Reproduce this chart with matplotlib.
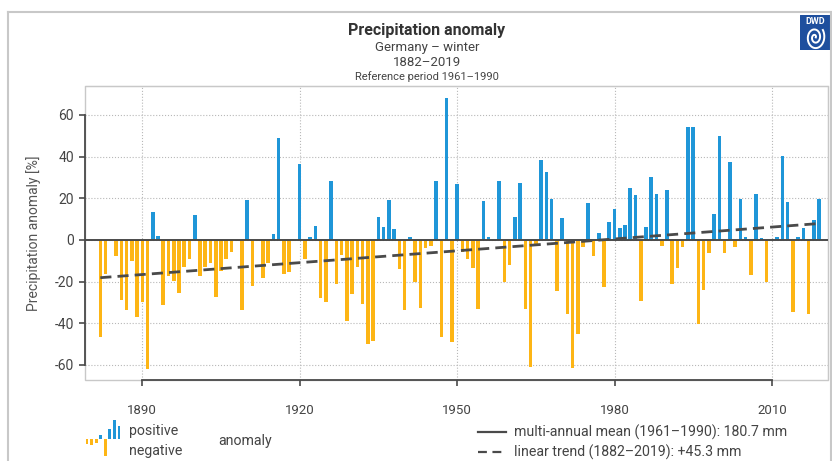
import numpy as np
import matplotlib
matplotlib.use('Agg')
from matplotlib import pyplot as plt
from matplotlib import font_manager
from matplotlib.lines import Line2D
from matplotlib.patches import Rectangle

# winter precipitation anomaly in % vs 1961-1990, one value per year
years = np.arange(1882, 2020)
anomaly = [
    -46.7, -16.3, -0.5, -7.5, -28.8, -33.6, -9.9, -36.8, -29.6, -62.1,   # 1882-1891
    13.6, 2.1, -31.2, -17.1, -19.5, -25.3, -13.1, -9.1, 12.0, -17.1,      # 1892-1901
    -12.8, -11.2, -27.5, -14.7, -9.1, -5.9, -0.5, -33.6, 19.2, -21.9,     # 1902-1911
    -0.5, -18.4, -11.2, 2.9, 48.8, -16.3, -15.5, -0.5, 36.5, -9.1,        # 1912-1921
    1.6, 6.9, -28.0, -29.6, 28.5, -21.1, -7.2, -38.7, -25.9, -12.8,       # 1922-1931
    -30.7, -49.9, -48.3, 11.2, 6.1, 19.2, 5.3, -13.9, -33.6, 1.3,         # 1932-1941
    -20.0, -32.8, -4.0, -2.7, 28.5, -46.4, 68.0, -48.8, 26.7, -5.9,       # 1942-1951
    -9.1, -13.6, -33.1, 18.7, 1.3, -0.5, 28.5, -20.0, -12.0, 11.2,        # 1952-1961
    27.2, -33.1, -60.8, -2.7, 38.4, 32.5, 19.7, -24.5, 10.4, -35.5,       # 1962-1971
    -61.6, -45.3, -3.2, 17.6, -7.7, 3.5, -22.4, 8.5, 14.7, 5.9,           # 1972-1981
    7.2, 24.8, 21.6, -29.3, 6.1, 30.4, 21.9, -2.7, 24.0, -21.3,           # 1982-1991
    -13.3, -3.5, 54.1, 54.1, -40.5, -24.0, -6.4, 12.3, 50.1, -6.4,        # 1992-2001
    37.6, -3.2, 19.7, 1.6, -16.8, 22.1, 0.8, -20.3, 0.5, 1.6,             # 2002-2011
    40.5, 18.1, -34.7, 1.3, 5.9, -35.7, 9.6, 19.5,                        # 2012-2019
]
trend_years = [1882, 2019]
trend_values = [-18.1, 7.9]

xticks = [1890, 1920, 1950, 1980, 2010]
yticks = [-60, -40, -20, 0, 20, 40, 60]

# tiny bar sketch used as legend symbol
icon_values = [-3, -3.5, -2.5, 3, -11, 7, 13, 9]

title = 'Precipitation anomaly'
subtitles = ['Germany \u2013 winter', '1882\u20132019']
ref_text = 'Reference period 1961\u20131990'
mean_text = 'multi-annual mean (1961\u20131990): 180.7 mm'
trend_text = 'linear trend (1882\u20132019): +45.3 mm'

BLUE = '#1f96d8'
ORANGE = '#fdb515'
DARK = '#4a4a4a'
TXT = '#444444'
FRAME = '#c8c8c8'

names = {f.name for f in font_manager.fontManager.ttflist}
font = 'Liberation Sans Narrow' if 'Liberation Sans Narrow' in names else 'Roboto'
plt.rcParams['font.family'] = [font, 'DejaVu Sans']

W, H = 832, 461
fig = plt.figure(figsize=(W / 100, H / 100), dpi=100)


def fx(px):
    return px / W


def fy(py):
    return 1 - py / H


ax = fig.add_axes([fx(85), fy(380), fx(828 - 85), (380 - 86) / H])

anomaly = np.array(anomaly)
colors = [BLUE if v >= 0 else ORANGE for v in anomaly]
ax.bar(years, anomaly, width=0.68, color=colors, zorder=2)
ax.axhline(0, color=DARK, lw=1.4, zorder=3)
ax.plot(trend_years, trend_values, color=DARK, lw=2, ls=(0, (4, 2.2)), zorder=4)

ax.set_xlim(1879.08, 2020.69)
ax.set_ylim(-67.2, 73.9)
ax.set_xticks(xticks)
ax.set_yticks(yticks)
ax.set_xticklabels([str(t) for t in xticks], fontsize=9.5, color=TXT)
ax.set_yticklabels([str(t) for t in yticks], fontsize=10, color=TXT)
ax.tick_params(axis='x', direction='out', length=4, width=1.2, color=DARK, pad=13)
ax.tick_params(axis='y', direction='out', length=4, width=1.2, color=DARK, pad=4)
ax.grid(True, ls=':', color='#b8b8b8', lw=0.8, zorder=0)
ax.set_ylabel('Precipitation anomaly [%]', fontsize=10, color='#555555', labelpad=10)

for side in ['top', 'right']:
    ax.spines[side].set_color(FRAME)
ax.spines['left'].set_color(DARK)
ax.spines['left'].set_linewidth(1.3)
ax.spines['left'].set_bounds(-60, 60)
ax.spines['bottom'].set_color(DARK)
ax.spines['bottom'].set_linewidth(1.3)
ax.spines['bottom'].set_bounds(1890, 2010)
# light frame behind the bracket spines
ax.add_patch(Rectangle((0, 0), 1, 1, transform=ax.transAxes, fill=False,
                       edgecolor=FRAME, lw=1, zorder=0.5, clip_on=False))

# outer frame of the graphic
fig.add_artist(Line2D([fx(8), fx(8)], [0, fy(12)], color=FRAME, lw=1.5))
fig.add_artist(Line2D([fx(8), fx(831)], [fy(12), fy(12)], color=FRAME, lw=1.5))
fig.add_artist(Line2D([fx(831), fx(831)], [0, fy(12)], color=FRAME, lw=1.5))

# titles
fig.text(fx(427), fy(31), title, ha='center', va='center', fontsize=11.5,
         fontweight='bold', color='#333333')
fig.text(fx(427), fy(47), subtitles[0], ha='center', va='center', fontsize=9.5, color=TXT)
fig.text(fx(427), fy(62), subtitles[1], ha='center', va='center', fontsize=9.5, color=TXT)
fig.text(fx(427), fy(77), ref_text, ha='center', va='center', fontsize=8, color=TXT)

# DWD logo
lax = fig.add_axes([fx(800), fy(50), fx(30), 35 / H])
lax.set_xlim(0, 1)
lax.set_ylim(0, 1)
lax.axis('off')
lax.add_patch(Rectangle((0, 0), 1, 1, color='#1e4f9e'))
lax.text(0.5, 0.82, 'DWD', ha='center', va='center', color='white', fontsize=6.5,
         fontweight='bold')
t = np.linspace(0, 4.2 * np.pi, 200)
r = 0.03 + 0.025 * t
lax.plot(0.5 + r * np.cos(t) * 0.9, 0.36 + r * np.sin(t), color='white', lw=1.4)

# legend: bar symbol
iax = fig.add_axes([fx(84), fy(457), fx(38), 38 / H])
iax.bar(np.arange(len(icon_values)), icon_values, width=0.6,
        color=[BLUE if v >= 0 else ORANGE for v in icon_values])
iax.set_ylim(-12, 14)
iax.axis('off')
fig.text(fx(129), fy(431), 'positive', ha='left', va='center', fontsize=10.2, color=TXT)
fig.text(fx(129), fy(451), 'negative', ha='left', va='center', fontsize=10.2, color=TXT)
fig.text(fx(218), fy(441), 'anomaly', ha='left', va='center', fontsize=10.2, color=TXT)

# legend: lines
fig.add_artist(Line2D([fx(478), fx(506)], [fy(432), fy(432)], color=DARK, lw=1.6))
fig.add_artist(Line2D([fx(478), fx(506)], [fy(452), fy(452)], color=DARK, lw=1.6,
                      ls=(0, (4, 2.5))))
fig.text(fx(514), fy(432), mean_text, ha='left', va='center', fontsize=10.2, color=TXT)
fig.text(fx(514), fy(452), trend_text, ha='left', va='center', fontsize=10.2, color=TXT)

fig.savefig('out.png', dpi=100)
